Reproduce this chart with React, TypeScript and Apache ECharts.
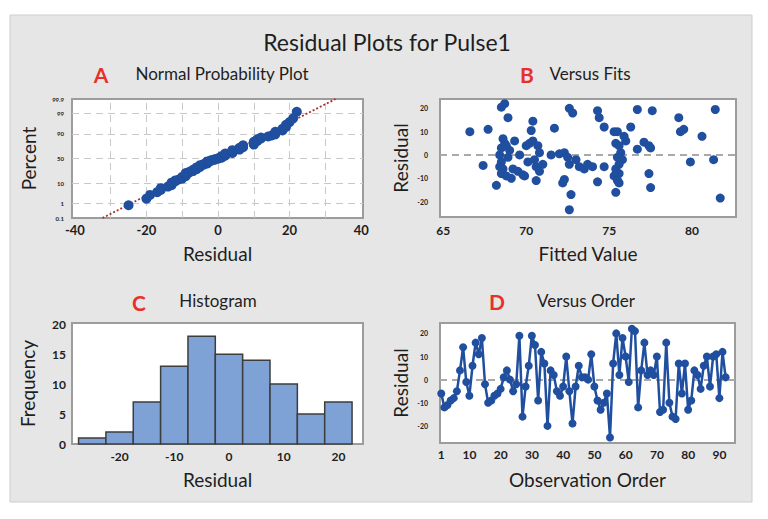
import React, { useEffect, useRef } from "react";
import * as echarts from "echarts";

// ---------- data ----------
// Residuals in observation order (panel D)
const orderResiduals = [
  -6, -12, -11, -9, -8, -5, 4, 14, -1, -7,
  6, 16, 11, 18, -2, -10, -9, -7, -6, -4,
  1, 4, 0, -5, -2, 19, -16, -3, 6, 19,
  15, -9, 12, 7, -20, 4, 2, -5, -7, -3,
  10, -5, -19, -3, 6, 1, 1, 0, 11, -3,
  -9, -13, -10, -6, -25, 7, 20, 2, 18, 10,
  -1, 22, 21, -12, 4, 16, 2, 4, 2, 10,
  -14, -13, 16, -10, -16, -17, 7, -6, 7, -13,
  -9, 4, 2, -4, 6, 10, -3, 10, 11, -8,
  12, 1,
];

// Versus Fits (panel B)
const fitValues = [
  66.6, 67.7, 67.4, 68.2, 68.5, 68.7, 68.9, 68.6, 68.7, 68.5,
  68.4, 68.5, 68.4, 68.6, 68.5, 68.8, 68.9, 69.0, 68.8, 69.1,
  69.3, 69.2, 69.6, 69.5, 69.8, 69.9, 70.0, 70.2, 70.4, 70.3,
  70.6, 70.4, 70.1, 70.5, 70.7, 70.8, 70.6, 70.8, 71.0, 71.7,
  71.5, 72.0, 72.3, 72.5, 72.3, 72.2, 72.6, 72.8, 72.6, 72.7,
  72.6, 73.0, 73.2, 73.5, 73.7, 74.0, 74.3, 74.3, 74.4, 74.7,
  74.7, 75.3, 75.5, 75.9, 75.4, 75.6, 75.7, 75.5, 75.8, 75.6,
  75.4, 75.6, 75.3, 75.5, 75.6, 75.4, 76.0, 76.3, 76.7, 77.6,
  76.7, 77.1, 77.4, 77.5, 77.4, 77.5, 79.2, 79.3, 79.5, 79.9,
  80.6, 81.3, 81.4, 81.7,
];
const fitResiduals = [
  10, 11, -4.5, -13, 20.5, 22, 16, 7, 5, 3,
  0, -3, -5, -6, -8, -9, -1, 2, 4, -10,
  6, -6, 0, -7, -8.5, -9, 4, 5, 14.5, 10.5,
  -11, 6, -3, -2, 4, 1, -5, -7, -4, 11.5,
  0, 0.5, 1, -1, -10.5, -12, 20, 18, -4, -17,
  -23.5, -2, -5, -6, -4, -5, -11.5, 19, 16, -5,
  12, 10, 10, 8, 5, 4, 1, -1, -2, -4,
  -6, -8, -9, -11, -12, -16, 6, 12, 19.5, 19,
  2.5, 5.5, 4, 3, -8, -14, 16, 10, 11, -3,
  8, -2, 19.5, -18.5,
];

// Histogram (panel C)
const histCenters = [-25, -20, -15, -10, -5, 0, 5, 10, 15, 20];
const histCounts = [1, 2, 7, 13, 18, 15, 14, 10, 5, 7];
const histBinWidth = 5;

// Tick labels
const probTicks = [0.1, 1, 10, 50, 90, 99, 99.9];
const probGridLines = [1, 10, 50, 90, 99];
const probXGridLines = [-30, -20, -10, 0, 10, 20, 30];
const residualTicksA = [-40, -20, 0, 20, 40];
const fitTicks = [65, 70, 75, 80];
const residualTicks = [-20, -10, 0, 10, 20];
const histXTicks = [-20, -10, 0, 10, 20];
const freqTicks = [0, 5, 10, 15, 20];
const orderTicks = [1, 10, 20, 30, 40, 50, 60, 70, 80, 90];

// ---------- helpers ----------
function probit(p: number): number {
  const a = [-3.969683028665376e1, 2.209460984245205e2, -2.759285104469687e2, 1.38357751867269e2, -3.066479806614716e1, 2.506628277459239];
  const b = [-5.447609879822406e1, 1.615858368580409e2, -1.556989798598866e2, 6.680131188771972e1, -1.328068155288572e1];
  const c = [-7.784894002430293e-3, -3.223964580411365e-1, -2.400758277161838, -2.549732539343734, 4.374664141464968, 2.938163982698783];
  const d = [7.784695709041462e-3, 3.224671290700398e-1, 2.445134137142996, 3.754408661907416];
  const plow = 0.02425;
  const phigh = 1 - plow;
  if (p < plow) {
    const q = Math.sqrt(-2 * Math.log(p));
    return (((((c[0] * q + c[1]) * q + c[2]) * q + c[3]) * q + c[4]) * q + c[5]) / ((((d[0] * q + d[1]) * q + d[2]) * q + d[3]) * q + 1);
  }
  if (p <= phigh) {
    const q = p - 0.5;
    const r = q * q;
    return ((((((a[0] * r + a[1]) * r + a[2]) * r + a[3]) * r + a[4]) * r + a[5]) * q) / (((((b[0] * r + b[1]) * r + b[2]) * r + b[3]) * r + b[4]) * r + 1);
  }
  const q = Math.sqrt(-2 * Math.log(1 - p));
  return -(((((c[0] * q + c[1]) * q + c[2]) * q + c[3]) * q + c[4]) * q + c[5]) / ((((d[0] * q + d[1]) * q + d[2]) * q + d[3]) * q + 1);
}

const FONT = "Lato, 'Open Sans', sans-serif";
const BLUE = "#1f4f9e";
const TXT = "#1e1e1e";

export default function App() {
  const ref = useRef<HTMLDivElement>(null);

  useEffect(() => {
    if (!ref.current) return;
    const chart = echarts.init(ref.current, null, { renderer: "svg" });

    const n = orderResiduals.length;
    const sorted = [...orderResiduals].sort((x, y) => x - y);
    const probData = sorted.map((r, i) => [r, probit((i + 1 - 0.3) / (n + 0.4))]);
    const mean = orderResiduals.reduce((s, v) => s + v, 0) / n;
    const sd = Math.sqrt(orderResiduals.reduce((s, v) => s + (v - mean) * (v - mean), 0) / (n - 1));
    const zMin = probit(probTicks[0] / 100);
    const zMax = probit(probTicks[probTicks.length - 1] / 100);
    const probTickZ = probTicks.map((p) => probit(p / 100));
    const probLabel = (v: number) => {
      let best = 0;
      probTickZ.forEach((z, i) => {
        if (Math.abs(z - v) < Math.abs(probTickZ[best] - v)) best = i;
      });
      return String(probTicks[best]);
    };

    const gridStyle = {
      show: true,
      backgroundColor: "#ffffff",
      borderColor: "#9c9c9c",
      borderWidth: 2,
    };
    const baseAxis = {
      axisLine: { show: false },
      axisTick: { show: false },
      splitLine: { show: false },
    };
    const lbl = (size: number, margin: number, extra: any = {}) => ({
      color: TXT,
      fontFamily: FONT,
      fontWeight: "bold",
      fontSize: size,
      margin,
      ...extra,
    });
    const nameStyle = { color: TXT, fontFamily: FONT, fontSize: 19 };

    const zeroLine = {
      silent: true,
      symbol: "none",
      z: 1,
      label: { show: false },
      lineStyle: { color: "#a9a9a9", type: [7, 5], width: 2 },
      data: [{ yAxis: 0 }],
    };

    const titleText = (text: string, x: number, y: number, size: number, color = TXT, weight = "normal") => ({
      type: "text",
      x,
      y,
      z: 10,
      style: {
        text,
        fill: color,
        fontSize: size,
        fontFamily: FONT,
        fontWeight: weight,
        textAlign: "center",
        textVerticalAlign: "middle",
      },
    });

    const dot = { color: BLUE, opacity: 1 };

    const option: any = {
      animation: false,
      backgroundColor: "#ffffff",
      graphic: [
        {
          type: "rect",
          z: -10,
          shape: { x: 10, y: 15, width: 742, height: 487 },
          style: { fill: "#e6e6e6", stroke: "#cdcdcd", lineWidth: 1 },
        },
        titleText("Residual Plots for Pulse1", 387, 42, 23),
        titleText("A", 101, 74, 21, "#e8302a", "bold"),
        titleText("Normal Probability Plot", 222, 73, 17),
        titleText("B", 527, 74, 21, "#e8302a", "bold"),
        titleText("Versus Fits", 590, 73, 17),
        titleText("C", 139, 302, 21, "#e8302a", "bold"),
        titleText("Histogram", 218, 300, 17),
        titleText("D", 497, 301, 21, "#e8302a", "bold"),
        titleText("Versus Order", 586, 300, 17),
      ],
      grid: [
        { left: 72, top: 99, width: 291, height: 119, ...gridStyle },
        { left: 440, top: 99, width: 296, height: 118, ...gridStyle },
        { left: 72, top: 323, width: 291, height: 121, ...gridStyle },
        { left: 440, top: 323, width: 295, height: 120, ...gridStyle },
      ],
      xAxis: [
        {
          ...baseAxis,
          type: "value",
          gridIndex: 0,
          min: -40.8,
          max: 40.5,
          name: "Residual",
          nameLocation: "middle",
          nameGap: 26,
          nameTextStyle: nameStyle,
          axisLabel: lbl(13, 5, { customValues: residualTicksA }),
        },
        {
          ...baseAxis,
          type: "value",
          gridIndex: 1,
          min: 64.8,
          max: 82.65,
          name: "Fitted Value",
          nameLocation: "middle",
          nameGap: 27,
          nameTextStyle: nameStyle,
          axisLabel: lbl(12, 7, { customValues: fitTicks }),
        },
        {
          ...baseAxis,
          type: "value",
          gridIndex: 2,
          min: -28.7,
          max: 24.5,
          name: "Residual",
          nameLocation: "middle",
          nameGap: 26,
          nameTextStyle: nameStyle,
          axisLabel: lbl(12, 6, { customValues: histXTicks }),
        },
        {
          ...baseAxis,
          type: "value",
          gridIndex: 3,
          min: 0.6,
          max: 95,
          name: "Observation Order",
          nameLocation: "middle",
          nameGap: 27,
          nameTextStyle: nameStyle,
          axisLabel: lbl(12, 5, { customValues: orderTicks }),
        },
      ],
      yAxis: [
        {
          ...baseAxis,
          type: "value",
          gridIndex: 0,
          min: zMin,
          max: zMax,
          name: "Percent",
          nameLocation: "middle",
          nameGap: 34,
          nameRotate: 90,
          nameTextStyle: nameStyle,
          axisLabel: lbl(6, 8, { customValues: probTickZ, formatter: (v: number) => probLabel(v) }),
        },
        {
          ...baseAxis,
          type: "value",
          gridIndex: 1,
          min: -26.6,
          max: 24,
          name: "Residual",
          nameLocation: "middle",
          nameGap: 30,
          nameRotate: 90,
          nameTextStyle: nameStyle,
          axisLabel: lbl(7, 12, { customValues: residualTicks }),
        },
        {
          ...baseAxis,
          type: "value",
          gridIndex: 2,
          min: 0,
          max: 20.2,
          name: "Frequency",
          nameLocation: "middle",
          nameGap: 35,
          nameRotate: 90,
          nameTextStyle: nameStyle,
          axisLabel: lbl(12, 6, { customValues: freqTicks }),
        },
        {
          ...baseAxis,
          type: "value",
          gridIndex: 3,
          min: -27.4,
          max: 24.5,
          name: "Residual",
          nameLocation: "middle",
          nameGap: 30,
          nameRotate: 90,
          nameTextStyle: nameStyle,
          axisLabel: lbl(7, 12, { customValues: residualTicks }),
        },
      ],
      series: [
        // A: fitted normal line + grid lines
        {
          type: "line",
          xAxisIndex: 0,
          yAxisIndex: 0,
          z: 2,
          symbol: "none",
          silent: true,
          data: [
            [mean + sd * zMin, zMin],
            [mean + sd * zMax, zMax],
          ],
          lineStyle: { color: "#a8302b", width: 1.8, type: [2, 2] },
          markLine: {
            silent: true,
            symbol: "none",
            z: 1,
            label: { show: false },
            lineStyle: { color: "#c8c8c8", type: [7, 5], width: 1 },
            data: [
              ...probGridLines.map((p) => ({ yAxis: probit(p / 100) })),
              ...probXGridLines.map((x) => ({ xAxis: x })),
            ],
          },
        },
        {
          type: "scatter",
          xAxisIndex: 0,
          yAxisIndex: 0,
          z: 3,
          symbolSize: 10,
          itemStyle: dot,
          data: probData,
        },
        // B
        {
          type: "scatter",
          xAxisIndex: 1,
          yAxisIndex: 1,
          z: 3,
          symbolSize: 9,
          itemStyle: dot,
          data: fitValues.map((f, i) => [f, fitResiduals[i]]),
          markLine: zeroLine,
        },
        // C
        {
          type: "custom",
          xAxisIndex: 2,
          yAxisIndex: 2,
          data: histCenters.map((c, i) => [c, histCounts[i]]),
          encode: { x: 0, y: 1 },
          renderItem: (params: any, api: any) => {
            const c = api.value(0);
            const cnt = api.value(1);
            const p0 = api.coord([c - histBinWidth / 2, 0]);
            const p1 = api.coord([c + histBinWidth / 2, cnt]);
            return {
              type: "rect",
              shape: { x: p0[0], y: p1[1], width: p1[0] - p0[0], height: p0[1] - p1[1] },
              style: { fill: "#7ea2d6", stroke: "#3d3d3d", lineWidth: 1.5 },
            };
          },
        },
        // D
        {
          type: "line",
          xAxisIndex: 3,
          yAxisIndex: 3,
          z: 3,
          symbol: "circle",
          symbolSize: 8,
          showAllSymbol: true,
          itemStyle: dot,
          lineStyle: { color: BLUE, width: 2.5 },
          data: orderResiduals.map((r, i) => [i + 1, r]),
          markLine: zeroLine,
        },
      ],
    };

    chart.setOption(option);
    return () => chart.dispose();
  }, []);

  return (
    <div
      ref={ref}
      style={{ position: "fixed", left: 0, top: 0, width: 768, height: 519 }}
    />
  );
}
